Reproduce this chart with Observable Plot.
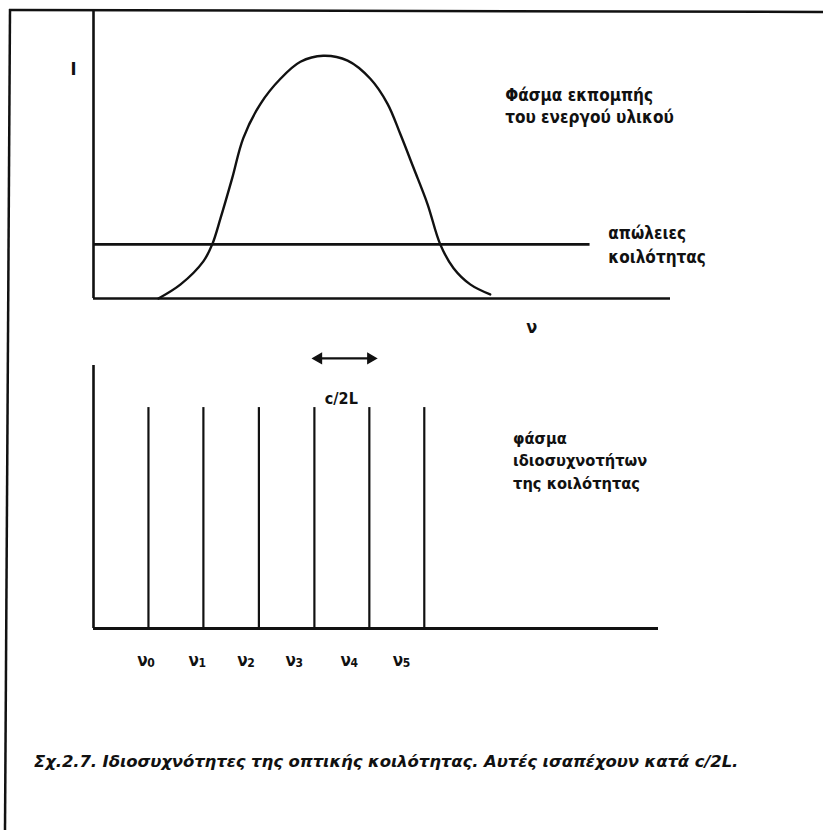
<!DOCTYPE html>
<html>
<head>
<meta charset="utf-8">
<script src="https://cdn.jsdelivr.net/npm/d3@7"></script>
<script src="https://cdn.jsdelivr.net/npm/@observablehq/plot@0.6"></script>
<style>
  html, body { margin: 0; padding: 0; background: #fff; }
  #page { position: relative; width: 823px; height: 830px; overflow: hidden; background: #fff; }
  #frame { position: absolute; left: 0; top: 0; }
  #topPanel { position: absolute; left: 0; top: 0; }
  #bottomPanel { position: absolute; left: 0; top: 330px; }
  #caption { position: absolute; left: 34px; top: 752px; font-family: "DejaVu Sans", sans-serif; font-style: italic; font-weight: bold; font-size: 16.5px; color: #111; white-space: nowrap; letter-spacing: -0.1px; }
  svg { overflow: visible; }
</style>
</head>
<body>
<div id="page">
  <svg id="frame" width="823" height="830">
    <line x1="9" y1="10" x2="823" y2="12" stroke="#111" stroke-width="2.5"/>
    <line x1="10" y1="9" x2="5" y2="830" stroke="#111" stroke-width="2.5"/>
  </svg>
  <div id="topPanel"></div>
  <div id="bottomPanel"></div>
  <div id="caption"></div>
</div>
<script>
// ---- Data (frequency in units of c/2L, intensity in arbitrary units) ----
// Emission (gain) spectrum of the active medium
const gainFreq      = [1.17, 1.57, 1.98, 2.14, 2.29, 2.50, 2.70, 3.01, 3.37, 3.73, 4.14, 4.58, 4.99, 5.30, 5.53, 5.77, 6.02, 6.25, 6.49, 6.79, 7.15];
const gainIntensity = [0.00, 0.49, 1.29, 1.88, 2.79, 4.18, 5.57, 6.76, 7.63, 8.22, 8.43, 8.26, 7.63, 6.76, 5.71, 4.53, 3.28, 1.88, 1.05, 0.49, 0.14];
// Cavity losses level
const lossLevel = 1.88;
const lossExtent = [0, 8.95];
// Cavity eigenfrequencies (longitudinal modes)
const modeFreq   = [0.99, 1.98, 2.98, 3.98, 4.97, 5.96];
const modeHeight = [8.4, 8.4, 8.4, 8.4, 8.4, 8.4];
const modeSymbol = "ν";
const modeIndex  = ["0", "1", "2", "3", "4", "5"];
const modeLabelFreq = [0.79, 1.71, 2.59, 3.46, 4.45, 5.39];
// Spacing arrow c/2L
const spacingFrom = 4.02, spacingTo = 5.03, spacingLevel = 10.27;
const spacingLabel = "c/2L";
// Texts
const yAxisLabel = "I";
const xAxisLabel = "ν";
const gainLabel = "Φάσμα εκπομπής\nτου ενεργού υλικού";
const lossLabel = "απώλειες\nκοιλότητας";
const modesLabel = "φάσμα\nιδιοσυχνοτήτων\nτης κοιλότητας";
const captionText = "Σχ.2.7. Ιδιοσυχνότητες της οπτικής κοιλότητας. Αυτές ισαπέχουν κατά c/2L.";

const gain = gainFreq.map((f, i) => ({f, I: gainIntensity[i]}));
const modes = modeFreq.map((f, i) => ({f, h: modeHeight[i]}));
const ticks = modeLabelFreq.map((f, i) => ({f, sym: modeSymbol, idx: modeIndex[i]}));

const ink = "#111";
const font = {fontFamily: "'DejaVu Sans Condensed', 'DejaVu Sans', sans-serif", fontWeight: "bold", fill: ink};

// ---- Top panel: emission spectrum and cavity losses ----
const topChart = Plot.plot({
  width: 823, height: 345,
  marginLeft: 93, marginRight: 153, marginTop: 10, marginBottom: 47,
  x: {domain: [0, 10.4], axis: null},
  y: {domain: [0, 10], axis: null},
  style: {background: "transparent", overflow: "visible"},
  marks: [
    Plot.ruleX([0], {stroke: ink, strokeWidth: 2.6}),
    Plot.ruleY([0], {stroke: ink, strokeWidth: 2.6}),
    Plot.ruleY([lossLevel], {x1: lossExtent[0], x2: lossExtent[1], stroke: ink, strokeWidth: 2.6}),
    Plot.line(gain, {x: "f", y: "I", curve: "catmull-rom", stroke: ink, strokeWidth: 2.4}),
    Plot.text([yAxisLabel], {x: -0.36, y: 7.96, text: d => d, fontSize: 18, ...font}),
    Plot.text([xAxisLabel], {x: 7.9, y: -1.0, text: d => d, fontSize: 18, ...font}),
    Plot.text([gainLabel], {x: 7.42, y: 6.73, text: d => d, textAnchor: "start", fontSize: 17, lineHeight: 1.3, ...font}),
    Plot.text([lossLabel], {x: 9.28, y: 1.9, text: d => d, textAnchor: "start", fontSize: 17, lineHeight: 1.4, ...font})
  ]
});
document.getElementById("topPanel").append(topChart);

// ---- Bottom panel: cavity eigenfrequencies ----
const bottomChart = Plot.plot({
  width: 823, height: 360,
  marginLeft: 93, marginRight: 165, marginTop: 35, marginBottom: 62,
  x: {domain: [0, 10.18], axis: null},
  y: {domain: [0, 10], axis: null},
  style: {background: "transparent", overflow: "visible"},
  marks: [
    Plot.ruleX([0], {y1: 0, y2: 10, stroke: ink, strokeWidth: 2.6}),
    Plot.ruleY([0], {stroke: ink, strokeWidth: 2.8}),
    Plot.ruleX(modes, {x: "f", y1: 0, y2: "h", stroke: ink, strokeWidth: 2.2}),
    Plot.link([{a: spacingFrom, b: spacingTo}], {x1: "a", x2: "b", y1: spacingLevel, y2: spacingLevel, stroke: ink, strokeWidth: 2.2}),
    Plot.dot([spacingFrom], {x: d => d, y: spacingLevel, symbol: "triangle", rotate: -90, r: 3.6, fill: ink, stroke: ink, dx: 2}),
    Plot.dot([spacingTo], {x: d => d, y: spacingLevel, symbol: "triangle", rotate: 90, r: 3.6, fill: ink, stroke: ink, dx: -2}),
    Plot.text([spacingLabel], {x: (spacingFrom + spacingTo) / 2 - 0.06, y: 8.75, text: d => d, fontSize: 16, ...font}),
    Plot.text(ticks, {x: "f", y: -1.22, text: "sym", fontSize: 17, textAnchor: "start", ...font}),
    Plot.text(ticks, {x: "f", y: -1.22, text: "idx", fontSize: 12, textAnchor: "start", dx: 10, dy: 3, ...font}),
    Plot.text([modesLabel], {x: 7.56, y: 6.44, text: d => d, textAnchor: "start", fontSize: 16.3, lineHeight: 1.38, ...font})
  ]
});
document.getElementById("bottomPanel").append(bottomChart);

document.getElementById("caption").textContent = captionText;
</script>
</body>
</html>
